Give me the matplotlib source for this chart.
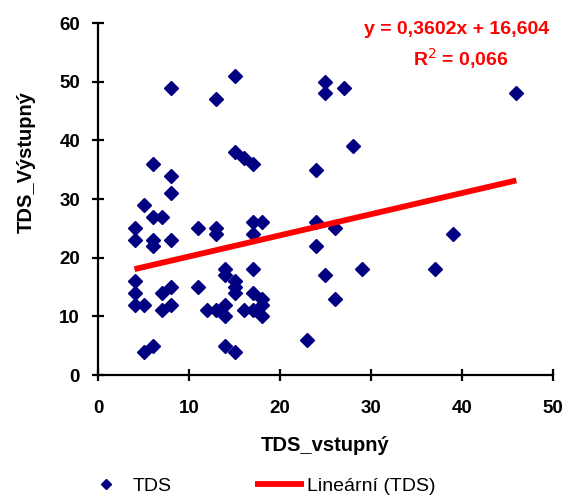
import matplotlib.pyplot as plt
import numpy as np

plt.rcParams["font.family"] = ["Liberation Sans", "DejaVu Sans"]

# TDS input vs output
tds_in = [4, 4, 4, 4, 4,
          5, 5, 5,
          6, 6, 6, 6, 6,
          7, 7, 7,
          8, 8, 8, 8, 8, 8,
          11, 11, 12,
          13, 13, 13, 13,
          14, 14, 14, 14, 14,
          15, 15, 15, 15, 15, 15,
          16, 16,
          17, 17, 17, 17, 17, 17,
          18, 18, 18, 18,
          23, 24, 24, 24, 25, 25, 25, 26, 26, 27, 28, 29, 37, 39, 46]
tds_out = [25, 23, 16, 14, 12,
           29, 12, 4,
           36, 27, 23, 22, 5,
           27, 14, 11,
           49, 34, 31, 23, 15, 12,
           25, 15, 11,
           47, 25, 24, 11,
           18, 17, 12, 10, 5,
           51, 38, 16, 15, 14, 4,
           37, 11,
           36, 26, 24, 18, 14, 11,
           26, 13, 12, 10,
           6, 35, 26, 22, 50, 48, 17, 25, 13, 49, 39, 18, 18, 24, 48]

# trend line as reported in the chart
slope = 0.3602
intercept = 16.604
r_squared = 0.066

x_ticks = [0, 10, 20, 30, 40, 50]
y_ticks = [0, 10, 20, 30, 40, 50, 60]


def main() -> None:
    fig = plt.figure(figsize=(5.64, 4.95), dpi=100)
    ax = fig.add_axes([0.174, 0.2424, 0.806, 0.7111])

    pts, = ax.plot(tds_in, tds_out, linestyle="none", marker="D",
                   markersize=7, color="#000080", label="TDS")
    xs = np.array([min(tds_in), max(tds_in)])
    fit, = ax.plot(xs, slope * xs + intercept, color="#ff0000", lw=4.2,
                   solid_capstyle="butt", label="Lineární (TDS)")

    ax.set_xlim(0, 50)
    ax.set_ylim(0, 60)
    ax.set_xticks(x_ticks)
    ax.set_yticks(y_ticks)
    ax.spines[["top", "right"]].set_visible(False)
    for s in ("left", "bottom"):
        ax.spines[s].set_linewidth(1.6)
    ax.tick_params(direction="inout", length=8, width=1.6, labelsize=13.5)
    ax.tick_params(axis="x", pad=14)
    ax.tick_params(axis="y", pad=9)
    for lab in ax.get_xticklabels() + ax.get_yticklabels():
        lab.set_fontweight("bold")

    ax.set_xlabel("TDS_vstupný", fontsize=14.5, fontweight="bold", labelpad=14)
    ax.set_ylabel("TDS_Výstupný", fontsize=14.5, fontweight="bold")
    ax.yaxis.set_label_coords(-0.138, 0.605)

    eq = f"y = {slope:.4f}x + {intercept:.3f}".replace(".", ",")
    r2 = f"R$^2$ = {r_squared:.3f}".replace(".", ",")
    fig.text(0.81, 0.941, eq, color="#ff0000", fontsize=14, fontweight="bold",
             ha="center", va="center")
    fig.text(0.817, 0.881, r2, color="#ff0000", fontsize=14, fontweight="bold",
             ha="center", va="center")

    fig.legend([pts, fit], ["TDS", "Lineární (TDS)"], loc="center",
               bbox_to_anchor=(0.458, 0.018), ncol=2, frameon=False, fontsize=14,
               handlelength=2.5, handletextpad=0.15, columnspacing=4.3,
               markerscale=0.8)

    fig.savefig("out.png", dpi=100)
    plt.close(fig)


if __name__ == "__main__":
    main()
